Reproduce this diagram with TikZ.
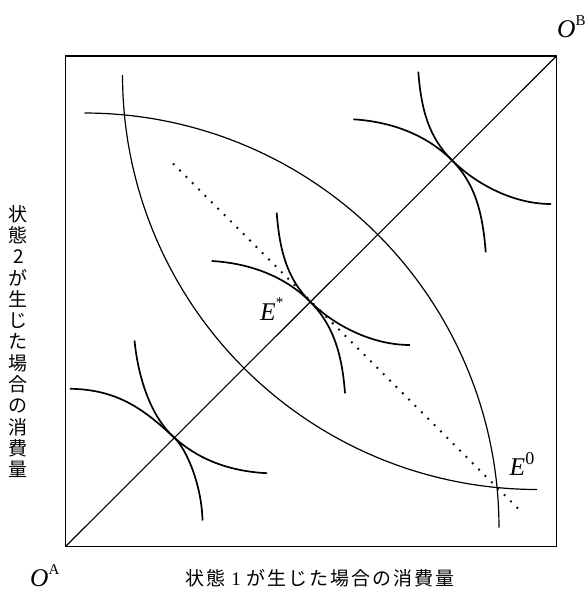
\documentclass[tikz,border=0pt]{standalone}
\usepackage{fontspec}
\setmainfont{Liberation Serif}
\newfontfamily\jp{Noto Sans CJK JP}
\newcommand\supr[3]{\raisebox{#2}{\fontsize{#1}{#1}\selectfont\upshape #3}}
\newcommand\jsp{\hspace{2pt}}
\begin{document}
\begin{tikzpicture}[x=1pt,y=-1pt,
  frame/.style={line width=1.4pt},
  diag/.style={line width=1.1pt},
  bigarc/.style={line width=1.2pt},
  icurve/.style={line width=1.7pt},
  dotline/.style={line width=1.8pt, dash pattern=on 1.8pt off 7.2pt},
  lbl/.style={inner sep=0pt, anchor=base west, font=\fontsize{25.5}{28}\selectfont\itshape},
  jlbl/.style={inner sep=0pt, font=\jp\fontsize{19}{21.3}\selectfont},
]
\useasboundingbox (0,0) rectangle (587,590);
% frame and certainty line
\coordinate (OA) at (65.5,546.5);
\coordinate (OB) at (556.5,56);
\coordinate (TL) at (65.5,56);
\coordinate (BR) at (556.5,546.5);
\draw[frame] (TL) rectangle (BR);
\draw[diag] (OA) -- (OB);
% dotted price line
\coordinate (d1) at (173,163.5);
\coordinate (d2) at (520.6,511.1);
\draw[dotline] (d1) -- (d2);
% big contract curves
\draw[bigarc] plot[domain=90:180, samples=120] ({537+414.5*cos(\x)}, {75+414.5*sin(\x)});
\draw[bigarc] plot[domain=270:360, samples=120] ({84.5+414.5*cos(\x)}, {527.5+414.5*sin(\x)});
% upper-right pair
\begin{scope}[shift={(451.7,160)}]
  \draw[icurve] (-33.4,-88.3) .. controls (-30.4,-48.3) and (-22,-22) .. (0,0) .. controls (22,22) and (59.3,44) .. (99.3,44);
  \draw[icurve] (-98.4,-40.7) .. controls (-55,-38) and (-22,-22) .. (0,0) .. controls (22,22) and (31,50) .. (34,92.3);
\end{scope}
% E* pair
\begin{scope}[shift={(310,301.5)}]
  \draw[icurve] (-33.3,-88.8) .. controls (-30.3,-48.8) and (-22,-22) .. (0,0) .. controls (22,22) and (60,43.5) .. (100,43.5);
  \draw[icurve] (-98.3,-40.5) .. controls (-55,-38) and (-22,-22) .. (0,0) .. controls (22,22) and (32,50) .. (35,91.8);
\end{scope}
% lower-left pair
\begin{scope}[shift={(173.8,437.2)}]
  \draw[icurve] (-39.3,-96.7) .. controls (-35.3,-56.7) and (-22,-20) .. (0,0) .. controls (22,20) and (52,34) .. (93.4,36);
  \draw[icurve] (-104,-48.4) .. controls (-55,-48) and (-28,-26) .. (0,0) .. controls (14,13) and (28,50) .. (28.7,83.3);
\end{scope}
% labels
\node[lbl] (Estar) at (260,320) {E\supr{15}{13pt}{*}};
\node[lbl] (Ezero) at (509.5,475) {E\supr{18}{11pt}{0}};
\node[lbl] (OAl) at (30,586) {O\supr{15}{12pt}{A}};
\node[lbl] (OBl) at (557,37.3) {O\supr{15}{12pt}{B}};
\node[jlbl, anchor=base, text height=15pt, text depth=2.5pt] (xlab) at (320,585.5) {状\jsp 態\hspace{6pt}{\rmfamily 1}\hspace{6pt}が\jsp 生\jsp じ\jsp た\jsp 場\jsp 合\jsp の\jsp 消\jsp 費\jsp 量};
\node[jlbl, align=center] (ylab) at (18.5,341.5) {状\\態\\2\\が\\生\\じ\\た\\場\\合\\の\\消\\費\\量};
\end{tikzpicture}
\end{document}
